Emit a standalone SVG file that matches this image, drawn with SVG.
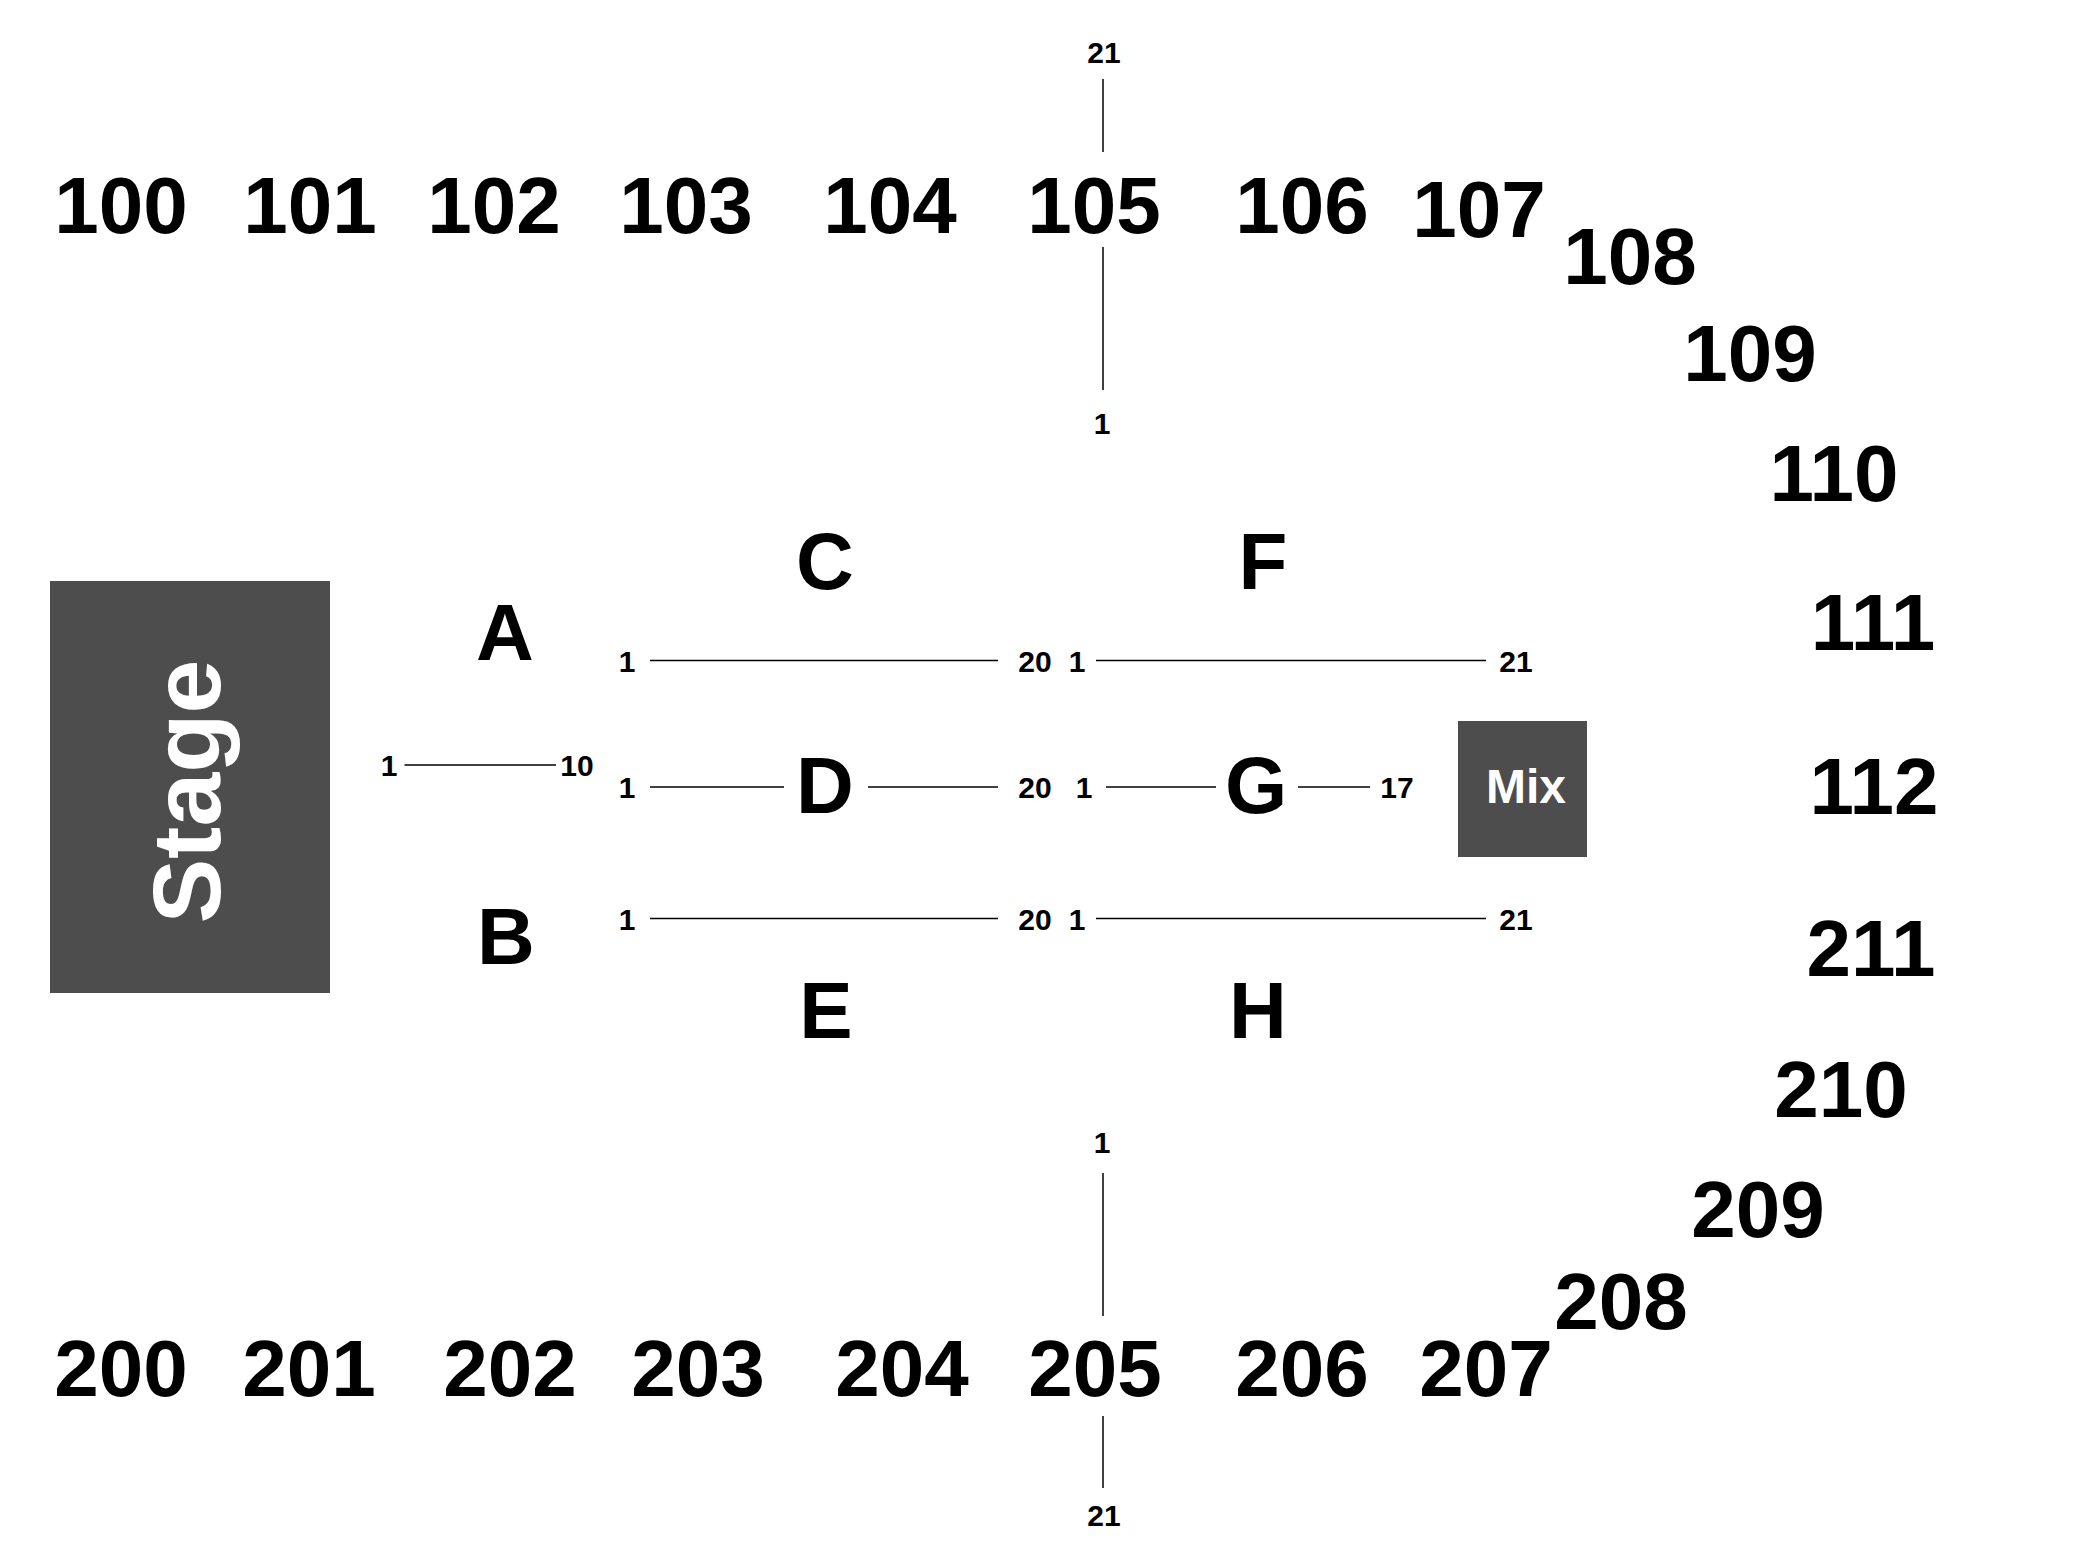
<svg xmlns="http://www.w3.org/2000/svg" width="2100" height="1560" viewBox="0 0 2100 1560">
<style>
text{font-family:"Liberation Sans",Arial,sans-serif;font-weight:bold;text-anchor:middle;fill:#000}
.num{font-size:80px}
.let{font-size:80px}
.lbl{font-size:30px}
.box{fill:#4d4d4d}
.wt{fill:#fff}
.ln{stroke:#000;stroke-width:1.5;fill:none}
</style>
<rect width="2100" height="1560" fill="#fff"/>
<g id="stage">
<rect class="box" x="50" y="581" width="280" height="412"/>
<text class="wt" font-size="97" transform="translate(220,791.5) rotate(-90)" x="0" y="0">Stage</text>
</g>
<g id="mix">
<rect class="box" x="1458" y="721" width="129" height="136"/>
<text class="wt" font-size="48" x="1526" y="803">Mix</text>
</g>
<g id="sections-top">
<text class="num" x="121" y="233">100</text>
<text class="num" x="310" y="233">101</text>
<text class="num" x="494" y="233">102</text>
<text class="num" x="686" y="233">103</text>
<text class="num" x="890" y="233">104</text>
<text class="num" x="1094" y="233">105</text>
<text class="num" x="1302" y="233">106</text>
<text class="num" x="1479" y="237">107</text>
<text class="num" x="1630" y="284">108</text>
<text class="num" x="1750" y="381">109</text>
<text class="num" x="1834" y="501">110</text>
<text class="num" x="1873" y="650">111</text>
<text class="num" x="1874" y="814">112</text>
</g>
<g id="sections-bottom">
<text class="num" x="1871" y="976">211</text>
<text class="num" x="1841" y="1117">210</text>
<text class="num" x="1758" y="1237">209</text>
<text class="num" x="1621" y="1329">208</text>
<text class="num" x="121" y="1396">200</text>
<text class="num" x="309" y="1396">201</text>
<text class="num" x="510" y="1396">202</text>
<text class="num" x="698" y="1396">203</text>
<text class="num" x="902" y="1396">204</text>
<text class="num" x="1095" y="1396">205</text>
<text class="num" x="1302" y="1396">206</text>
<text class="num" x="1486" y="1396">207</text>
</g>
<g id="floor-A"><text class="let" x="505" y="660">A</text></g>
<g id="floor-B"><text class="let" x="506" y="964">B</text></g>
<g id="floor-C"><text class="let" x="825" y="589">C</text></g>
<g id="floor-D"><text class="let" x="825" y="813">D</text></g>
<g id="floor-E"><text class="let" x="826" y="1038">E</text></g>
<g id="floor-F"><text class="let" x="1263" y="589">F</text></g>
<g id="floor-G"><text class="let" x="1256" y="813">G</text></g>
<g id="floor-H"><text class="let" x="1258" y="1038">H</text></g>
<g id="connectors">
<line class="ln" x1="1103" y1="79" x2="1103" y2="152"/>
<line class="ln" x1="1103" y1="247" x2="1103" y2="390"/>
<line class="ln" x1="1103" y1="1173" x2="1103" y2="1316"/>
<line class="ln" x1="1103" y1="1416" x2="1103" y2="1488"/>
<line class="ln" x1="650" y1="660.5" x2="998" y2="660.5"/>
<line class="ln" x1="1096" y1="660.5" x2="1486" y2="660.5"/>
<line class="ln" x1="404.5" y1="765" x2="556" y2="765"/>
<line class="ln" x1="650" y1="787" x2="784" y2="787"/>
<line class="ln" x1="868" y1="787" x2="998" y2="787"/>
<line class="ln" x1="1106" y1="787" x2="1216" y2="787"/>
<line class="ln" x1="1298" y1="787" x2="1370" y2="787"/>
<line class="ln" x1="650" y1="918.5" x2="998" y2="918.5"/>
<line class="ln" x1="1096" y1="918.5" x2="1486" y2="918.5"/>
</g>
<g id="row-labels">
<text class="lbl" x="1104" y="63">21</text>
<text class="lbl" x="1102" y="434">1</text>
<text class="lbl" x="1102" y="1153">1</text>
<text class="lbl" x="1104" y="1526">21</text>
<text class="lbl" x="627" y="671.5">1</text>
<text class="lbl" x="1035" y="671.5">20</text>
<text class="lbl" x="1077" y="671.5">1</text>
<text class="lbl" x="1516" y="671.5">21</text>
<text class="lbl" x="389" y="776">1</text>
<text class="lbl" x="577" y="776">10</text>
<text class="lbl" x="627" y="798">1</text>
<text class="lbl" x="1035" y="798">20</text>
<text class="lbl" x="1084" y="798">1</text>
<text class="lbl" x="1397" y="798">17</text>
<text class="lbl" x="627" y="929.5">1</text>
<text class="lbl" x="1035" y="929.5">20</text>
<text class="lbl" x="1077" y="929.5">1</text>
<text class="lbl" x="1516" y="929.5">21</text>
</g>
</svg>
